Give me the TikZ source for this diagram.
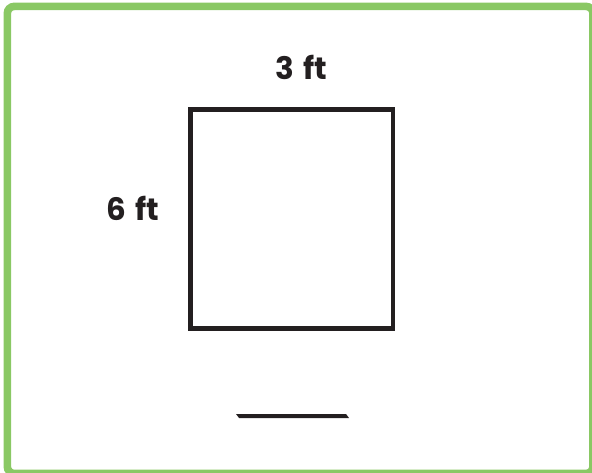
\documentclass[tikz,border=0pt]{standalone}
\usepackage{fontspec}
\setmainfont{Poppins}
\definecolor{framegreen}{RGB}{138,200,100}
\definecolor{inkblack}{RGB}{35,31,32}
\begin{document}
\begin{tikzpicture}[x=1pt,y=-1pt,
  frame/.style={draw=framegreen,line width=7.6pt,rounded corners=7pt},
  shapebox/.style={draw=inkblack,line width=4.6pt},
  dimlabel/.style={font=\fontsize{31}{36}\selectfont\bfseries,text=inkblack,inner sep=0pt}]
\useasboundingbox (0,0) rectangle (592,473);
\begin{scope}
\clip (0,0) rectangle (592,473);
\draw[frame] (7.3,6.4) rectangle (593,473.5);
\end{scope}
\draw[shapebox] (190.5,109.5) rectangle (393,328.5);
\node[dimlabel] (top) at (301,67) {3\hspace{0.3em}ft};
\node[dimlabel] (left) at (133,208) {6\hspace{0.3em}ft};
\fill[inkblack] (236,414) -- (346,414) -- (349,418) -- (239,418) -- cycle;
\end{tikzpicture}
\end{document}
